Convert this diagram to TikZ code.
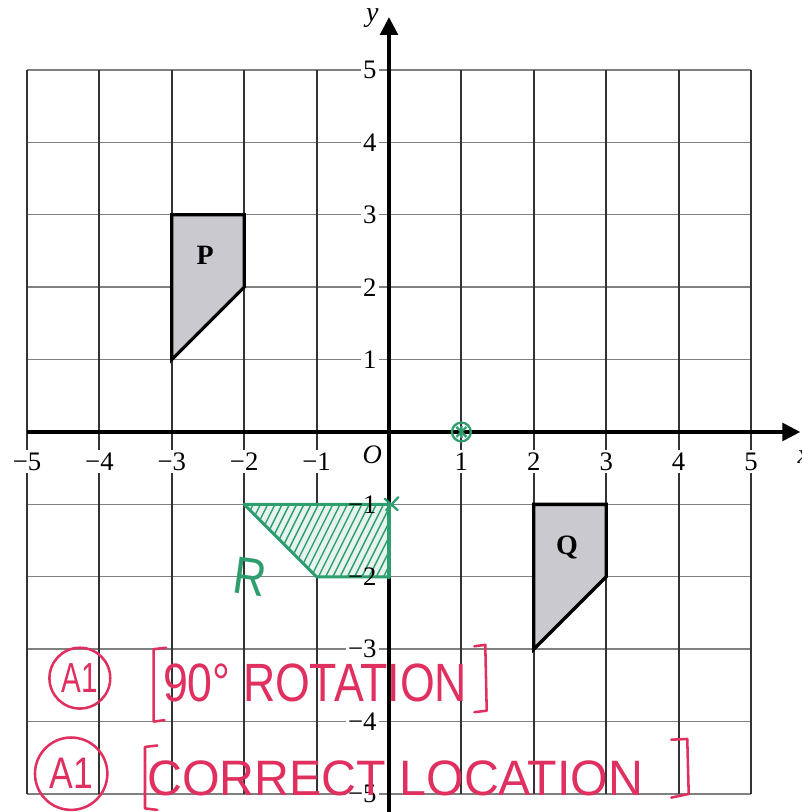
\documentclass[tikz,border=0pt]{standalone}
\usepackage{fontspec}
\setmainfont{Liberation Serif}
\newfontfamily\hand{Liberation Sans}
\usetikzlibrary{arrows.meta}
\definecolor{shapegrey}{HTML}{C9C9CF}
\definecolor{pen}{HTML}{2E9E6E}
\definecolor{redpen}{HTML}{E0305F}
\newcommand{\fitbox}[3]{\resizebox{#1}{#2}{\hand #3}}
\begin{document}
\begin{tikzpicture}[x=1cm,y=1cm,
  vline/.style={draw=black!80, line width=0.8pt},
  hline/.style={draw=black!50, line width=0.55pt},
  axisline/.style={draw=black, line width=1.2pt, -{Triangle[length=7pt,width=7pt]}},
  ticklab/.style={font=\fontsize{10.5}{12}\selectfont, fill=white, inner sep=1pt},
  plainlab/.style={font=\fontsize{10.5}{12}\selectfont, inner sep=1pt},
  poly/.style={draw=black, line width=1.3pt, fill=shapegrey, line join=miter},
  shapelab/.style={font=\fontsize{11}{13}\selectfont\bfseries},
  greenpen/.style={draw=pen, line width=1.2pt, line cap=round, line join=round},
  redline/.style={draw=redpen, line width=1pt, line cap=round, line join=round},
  redring/.style={circle, draw=redpen, line width=1pt, inner sep=0pt, text=redpen}
]
\useasboundingbox (-5.373,-5.249) rectangle (5.704,5.967);
% grid
\foreach \i in {-5,...,-1,1,2,...,5} \draw[hline] (-5,\i) -- (5,\i);
\foreach \i in {-5,...,-1,1,2,...,5} \draw[vline] (\i,-5) -- (\i,5);
% axes
\draw[axisline] (-5,0) -- (5.68,0);
\draw[axisline] (0,-5.25) -- (0,5.73);
\node[font=\fontsize{11}{13}\selectfont\itshape, anchor=west] (xl) at (5.52,-0.34) {x};
\node[font=\fontsize{11}{13}\selectfont\itshape] (yl) at (-0.23,5.72) {y};
\node[font=\fontsize{10.5}{12}\selectfont\itshape] (o) at (-0.23,-0.32) {O};
% tick labels
\foreach \i/\t in {-5/−5,-4/−4,-3/−3,-2/−2,-1/−1,1/1,2/2,3/3,4/4,5/5}
  \node[ticklab] (x\i) at (\i,-0.41) {\t};
\foreach \i/\t in {-5/−5,-4/−4,-3/−3,1/1,2/2,3/3,4/4,5/5}
  \node[ticklab, anchor=east] (y\i) at (-0.13,\i) {\t};
% shapes P and Q
\draw[poly] (-3,1) -- (-3,3) -- (-2,3) -- (-2,2) -- cycle;
\node[shapelab] (p) at (-2.54,2.44) {P};
\draw[poly] (2,-3) -- (2,-1) -- (3,-1) -- (3,-2) -- cycle;
\node[shapelab] (q) at (2.46,-1.59) {Q};
% green shape R
\fill[pen!12] (-2,-1) -- (0,-1) -- (0,-2) -- (-1,-2) -- cycle;
\begin{scope}
  \clip (-2,-1) -- (0,-1) -- (0,-2) -- (-1,-2) -- cycle;
  \foreach \k in {0,...,30}
    \draw[pen, line width=0.55pt] (-2.6+\k*0.1,-2.05) -- ++(0.55,1.1);
\end{scope}
\draw[greenpen] (-2,-1) -- (0,-1) -- (0,-2) -- (-1,-2) -- cycle;
\draw[greenpen, line width=1.8pt] (0,-1) -- (0,-2);
\draw[greenpen, line width=0.9pt] (-0.06,-0.92) -- (0.12,-1.08) (-0.04,-1.08) -- (0.13,-0.9);
\node[plainlab, anchor=east] (ym1) at (-0.13,-1) {−1};
\node[plainlab, anchor=east] (ym2) at (-0.13,-2) {−2};
\node[text=pen, rotate=-8] (r) at (-1.92,-2.0) {\fitbox{0.45cm}{0.5cm}{R}};
% green centre mark
\draw[pen, line width=0.9pt] (1,0) circle (0.13);
\draw[pen, line width=0.9pt] (0.93,-0.07) -- (1.07,0.07) (0.93,0.07) -- (1.07,-0.07) (1,-0.08) -- (1,0.08);
% red annotations
\node[redring, minimum width=0.84cm] (a1a) at (-4.27,-3.40) {\fitbox{0.5cm}{0.4cm}{A1}};
\draw[redline] (-3.08,-2.98) -- (-3.25,-3.0) -- (-3.25,-4.0) -- (-3.1,-3.98);
\node[text=redpen, inner sep=0pt] (t1) at (-1.02,-3.47) {\fitbox{4.2cm}{0.52cm}{90° ROTATION}};
\draw[redline] (1.18,-2.96) -- (1.33,-2.94) -- (1.35,-3.85) -- (1.18,-3.87);
\node[redring, minimum width=1.0cm] (a1b) at (-4.39,-4.72) {\fitbox{0.6cm}{0.42cm}{A1}};
\draw[redline] (-3.2,-4.33) -- (-3.37,-4.35) -- (-3.37,-5.2) -- (-3.2,-5.22);
\node[text=redpen, inner sep=0pt] (t2) at (0.085,-4.79) {\fitbox{6.85cm}{0.48cm}{CORRECT LOCATION}};
\draw[redline] (3.78,-4.25) (3.9,-4.25) -- (4.12,-4.24) -- (4.14,-5.0) -- (3.9,-5.05);
\end{tikzpicture}
\end{document}
